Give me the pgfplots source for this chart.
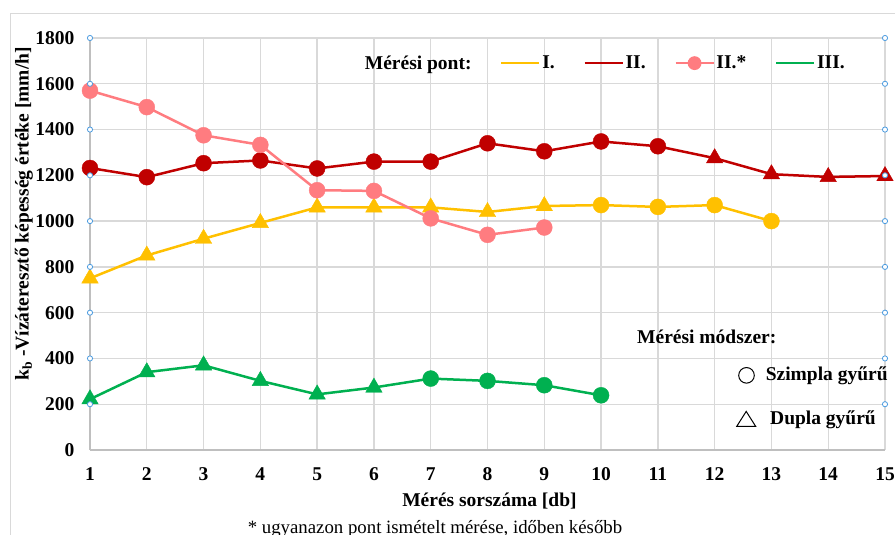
\documentclass[border=0pt]{standalone}
\usepackage{fontspec}
\setmainfont{Liberation Serif}
\usepackage{pgfplots}
\pgfplotsset{compat=1.18}
\usepackage{pgfplotstable}

\definecolor{cI}{HTML}{FFC000}
\definecolor{cII}{HTML}{C00000}
\definecolor{cIIs}{HTML}{FF7C80}
\definecolor{cIII}{HTML}{00B050}
\definecolor{gridc}{HTML}{D9D9D9}
\definecolor{axc}{HTML}{BFBFBF}
\definecolor{handle}{HTML}{4A9BE0}
\newcommand\fs{\fontsize{19.5}{22}\selectfont}
\newcommand\fsn{\fontsize{18.8}{22}\selectfont}

\pgfplotstableread{
x y m
1 750 t
2 850 t
3 923 t
4 992 t
5 1060 t
6 1060 t
7 1060 t
8 1040 t
9 1066 t
10 1070 c
11 1062 c
12 1070 c
13 1000 c
}\dataI
\pgfplotstableread{
x y m
1 1232 c
2 1192 c
3 1253 c
4 1265 c
5 1230 c
6 1260 c
7 1260 c
8 1340 c
9 1305 c
10 1348 c
11 1327 c
12 1275 t
13 1205 t
14 1193 t
15 1197 t
}\dataII
\pgfplotstableread{
x y m
1 1570 c
2 1498 c
3 1375 c
4 1333 c
5 1135 c
6 1132 c
7 1012 c
8 940 c
9 972 c
}\dataIIs
\pgfplotstableread{
x y m
1 222 t
2 340 t
3 370 t
4 302 t
5 243 t
6 273 t
7 312 c
8 302 c
9 283 c
10 239 c
}\dataIII
\pgfplotstableread{
x y
1 200
1 400
1 600
1 800
1 1000
1 1200
1 1400
1 1600
1 1800
15 200
15 400
15 600
15 800
15 1000
15 1200
15 1400
15 1600
15 1800
}\dataH

\pgfplotsset{
  mk/.style={scatter, only marks, scatter src=explicit symbolic,
    scatter/classes={c={mark=*, mark size=8pt, draw=#1, fill=#1},
                     t={mark=triangle*, mark size=9.5pt, draw=#1, fill=#1}}},
  ln/.style={#1, line width=2.5pt, no marks},
}

\begin{document}
\begin{tikzpicture}[x=1pt,y=1pt]
\clip (0,0) rectangle (895,535);
\draw[gridc, line width=1pt] (10.5,-20) rectangle (920,521);
\begin{axis}[
  at={(90pt,85pt)}, anchor=south west,
  scale only axis, width=795pt, height=412pt,
  xmin=1, xmax=15, ymin=0, ymax=1800,
  xtick={1,...,15}, ytick={0,200,...,1800},
  clip=false,
  axis x line*=bottom, axis y line*=left,
  axis line style={axc, line width=1.3pt, -},
  grid=major, major grid style={gridc, line width=1.3pt},
  major tick length=0pt,
  /pgf/number format/assume math mode=true,
  /pgf/number format/1000 sep={},
  ticklabel style={font=\bfseries\fs},
  xticklabel style={yshift=-14pt},
  yticklabel style={xshift=-12pt},
  every axis x label/.style={at={(axis description cs:0.5025,-0.123)}, anchor=center, font=\bfseries\fs},
  every axis y label/.style={at={(axis description cs:-0.083,0.573)}, rotate=90, anchor=center, font=\bfseries\fs},
  xlabel={Mérés sorszáma [db]},
  ylabel={k\textsubscript{b} -Vízáteresztő képesség értéke [mm/h]},
  legend image code/.code={\draw[mark repeat=2, mark phase=2, #1] plot coordinates {(0pt,0pt) (19pt,0pt) (38pt,0pt)};},
  legend style={at={(axis description cs:0.343,0.939)}, anchor=west, draw=none, fill=none,
    font=\bfseries\fs, legend columns=5, inner sep=0pt,
    nodes={inner sep=2pt},
    /tikz/every even column/.append style={column sep=27pt}},
]
\addplot[ln=cI, forget plot] table[x=x,y=y] \dataI;
\addplot[mk=cI, forget plot] table[x=x,y=y,meta=m] \dataI;
\addplot[ln=cII, forget plot] table[x=x,y=y] \dataII;
\addplot[mk=cII, forget plot] table[x=x,y=y,meta=m] \dataII;
\addplot[ln=cIIs, forget plot] table[x=x,y=y] \dataIIs;
\addplot[mk=cIIs, forget plot] table[x=x,y=y,meta=m] \dataIIs;
\addplot[ln=cIII, forget plot] table[x=x,y=y] \dataIII;
\addplot[mk=cIII, forget plot] table[x=x,y=y,meta=m] \dataIII;
\addplot[only marks, mark=*, mark size=2.6pt, forget plot, mark options={draw=handle, fill=white, line width=0.8pt}] table[x=x,y=y] \dataH;

\addlegendimage{empty legend}\addlegendentry{Mérési pont:}
\addlegendimage{cI, line width=1.8pt}\addlegendentry{I.}
\addlegendimage{cII, line width=1.8pt}\addlegendentry{II.}
\addlegendimage{cIIs, line width=1.8pt, mark=*, mark size=6pt}\addlegendentry{II.*}
\addlegendimage{cIII, line width=1.8pt}\addlegendentry{III.}
\end{axis}
\node[font=\bfseries\fs, anchor=west, inner sep=0pt] at (637,198) {Mérési módszer:};
\node[font=\bfseries\fs, anchor=west, inner sep=0pt] at (738,159) {\tikz[baseline=-0.6ex]\draw[line width=1pt] (0,0) circle (7.8pt);\hspace{11pt}Szimpla gyűrű};
\node[font=\bfseries\fs, anchor=west, inner sep=0pt] at (736,115) {\tikz[baseline=-0.6ex]\draw[line width=1pt] (-9.5pt,-7pt) -- (9.5pt,-7pt) -- (0pt,8pt) -- cycle;\hspace{14pt}Dupla gyűrű};
\node[font=\fsn, anchor=center, inner sep=0pt] at (435,6) {* ugyanazon pont ismételt mérése, időben később};
\end{tikzpicture}
\end{document}
